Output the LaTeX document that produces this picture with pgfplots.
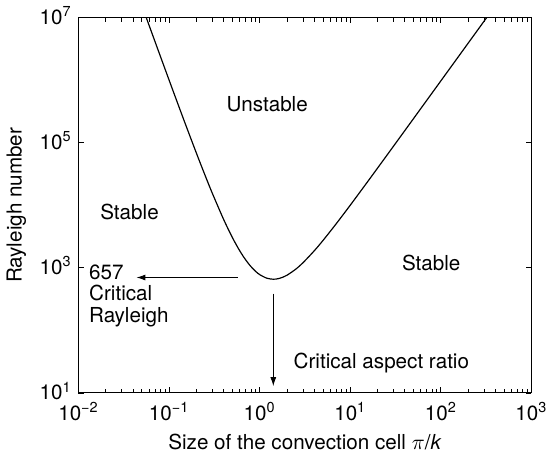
\documentclass[border=0pt]{standalone}
\usepackage{fontspec}
\setmainfont{TeX Gyre Heros}
\usepackage{pgfplots}
\pgfplotsset{compat=1.18}
\usetikzlibrary{arrows.meta}
\begin{document}
\begin{tikzpicture}
\begin{axis}[
 xmode=log, ymode=log,
 scale only axis, width=230.5pt, height=191pt,
 xmin=0.01, xmax=1000, ymin=10, ymax=1e7,
 xtick={0.01,0.1,1,10,100,1000},
 xticklabels={10\textsuperscript{−2},10\textsuperscript{−1},10\textsuperscript{0},10\textsuperscript{1},10\textsuperscript{2},10\textsuperscript{3}},
 ytick={10,1000,100000,10000000},
 yticklabels={10\textsuperscript{1},10\textsuperscript{3},10\textsuperscript{5},10\textsuperscript{7}},
 minor xtick={0.02,0.03,0.04,0.05,0.06,0.07,0.08,0.09,0.2,0.3,0.4,0.5,0.6,0.7,0.8,0.9,2,3,4,5,6,7,8,9,20,30,40,50,60,70,80,90,200,300,400,500,600,700,800,900},
 minor ytick={},
 tick align=inside,
 major tick length=3pt, minor tick length=2pt,
 axis line style={line width=0.5pt},
 every tick/.style={black, line width=0.4pt},
 xlabel={Size of the convection cell $\pi$/\textit{k}},
 ylabel={Rayleigh number},
 tick label style={font=\fontsize{10.5}{12}\selectfont},
 x tick label style={yshift=-1.2pt},
 y tick label style={yshift=1pt},
 label style={font=\fontsize{10.5}{12}\selectfont},
]
\addplot[black, line width=0.6pt, smooth] coordinates {
(0.055,1.0742e7) (0.06,7.598e6) (0.07,4.117e6) (0.08,2.4241e6) (0.1,1.0036e6)
(0.12,4.9034e5) (0.15,2.0570e5) (0.2,68482) (0.25,29911) (0.3,15574)
(0.4,5939.3) (0.5,3044.0) (0.6,1890.6) (0.7,1342.0) (0.8,1049.0) (0.9,880.4)
(1.0,779.27) (1.2,682.4) (1.4142,657.5) (1.6,670.6) (1.8,707.3) (2,761.0)
(2.5,950.3) (3,1202.6) (4,1869.4) (5,2739.3) (7,5071.3) (10,10036.1)
(15,22210.6) (20,39256.8) (30,87960.6) (50,243816) (70,477583) (100,974382)
(150,2.19199e6) (200,3.8966e6) (250,6.0883e6) (300,8.7671e6) (330,1.06081e7)
};
\draw[-{Latex[length=4.5pt,width=3pt]}, line width=0.4pt] (axis cs:0.571,700) -- (axis cs:0.0437,700);
\draw[-{Latex[length=4.5pt,width=3pt]}, line width=0.4pt] (axis cs:1.414,386) -- (axis cs:1.414,12.9);
\node[font=\fontsize{10.5}{12}\selectfont] at (axis cs:1.21,4.15e5) {Unstable};
\node[font=\fontsize{10.5}{12}\selectfont] at (axis cs:0.0366,7760) {Stable};
\node[font=\fontsize{10.5}{12}\selectfont] at (axis cs:78.3,1183) {Stable};
\node[font=\fontsize{10.5}{11}\selectfont, anchor=west] at (axis cs:1.99,29.6) {Critical aspect ratio};
\node[font=\fontsize{10.5}{11}\selectfont, anchor=north west, align=left, inner sep=0pt] at (axis cs:0.013,1150) {657\\Critical\\Rayleigh};
\end{axis}
\end{tikzpicture}
\end{document}
